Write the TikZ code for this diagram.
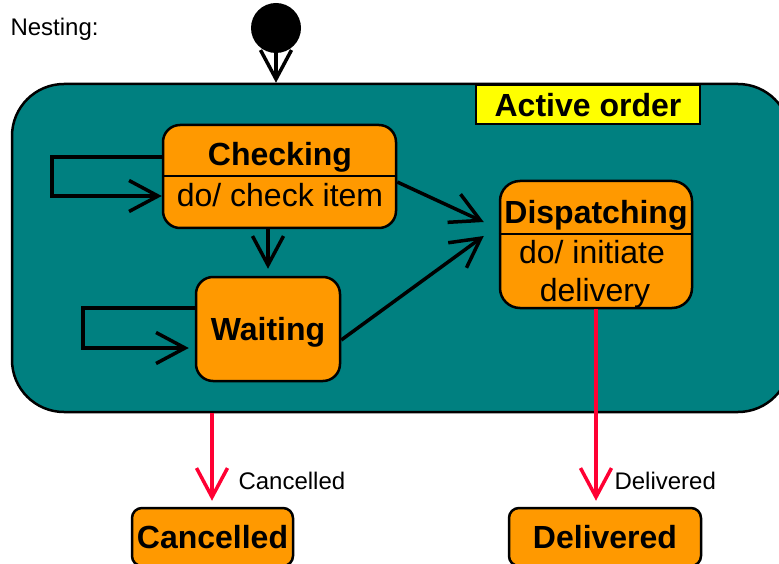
\documentclass[tikz,border=0pt]{standalone}
\usepackage{fontspec}
\setmainfont{Liberation Sans}
\usetikzlibrary{arrows.meta}
\definecolor{compositeteal}{RGB}{0,128,128}
\definecolor{stateorange}{RGB}{255,153,0}
\definecolor{titleyellow}{RGB}{255,255,0}
\definecolor{exitred}{RGB}{255,0,51}
\tikzset{
  bigbold/.style={font=\fontsize{32}{36}\selectfont\bfseries, text depth=0pt},
  bigtext/.style={font=\fontsize{32}{36}\selectfont, text depth=0pt},
  smalltext/.style={font=\fontsize{24}{28}\selectfont, text depth=0pt},
  state/.style={draw=black, line width=2.5pt, fill=stateorange, rounded corners=17pt, inner sep=0pt},
  flow/.style={line width=3.5pt, -{Straight Barb[length=29pt,width=31pt]}},
  exitflow/.style={exitred, line width=3.5pt, -{Straight Barb[length=29pt,width=31pt]}},
  divider/.style={line width=2.5pt},
}
\begin{document}
\begin{tikzpicture}[x=1pt,y=-1pt]
\useasboundingbox (0,0) rectangle (779,564);
\clip (0,0) rectangle (779,564);

% heading
\node[smalltext, anchor=west] (heading) at (7,27) {Nesting:};

% composite state
\node[draw=black, line width=2.5pt, fill=compositeteal, rounded corners=52pt,
      minimum width=778pt, minimum height=328pt] (active) at (401,248) {};
\node[draw=black, line width=2pt, fill=titleyellow, minimum width=224pt,
      minimum height=39pt, bigbold] (activelabel) at (588,104.5) {Active order};

% initial pseudostate
\node[circle, fill=black, minimum size=50pt, inner sep=0pt] (init) at (276,28) {};

% substates
\node[state, minimum width=233pt, minimum height=103pt] (checking) at (279.5,176.5) {};
\draw[divider] (checking.west |- 0,176) -- (checking.east |- 0,176);
\node[bigbold] (checkingname) at (280,154) {Checking};
\node[bigtext] (checkingdo) at (280,195) {do/ check item};

\node[state, minimum width=144pt, minimum height=104pt, bigbold] (waiting) at (268,329) {Waiting};

\node[state, rounded corners=20pt, minimum width=192pt, minimum height=127pt] (dispatching) at (596,244.5) {};
\draw[divider] (dispatching.west |- 0,234) -- (dispatching.east |- 0,234);
\node[bigbold] (dispatchingname) at (596,212) {Dispatching};
\node[bigtext] (dispatchingdo) at (592,252) {do/ initiate};
\node[bigtext] (dispatchingdo2) at (595,290) {delivery};

% final states
\node[state, rounded corners=10pt, minimum width=161pt, minimum height=58pt, bigbold] (cancelled) at (212.5,537) {Cancelled};
\node[state, rounded corners=10pt, minimum width=192pt, minimum height=58pt, bigbold] (delivered) at (605,537) {Delivered};

% transitions
\draw[flow] (init.south) -- (init.south |- active.north);
\draw[flow] (checking.west |- 0,157) -- (52,157) -- (52,196) -- (checking.west |- 0,196);
\draw[flow, shorten >=7pt] (checking.south -| 268,0) -- (waiting.north -| 268,0);
\draw[flow] (waiting.west |- 0,308) -- (83,308) -- (83,348) -- ([xshift=-6pt]waiting.west |- 0,348);
\draw[flow] (checking.east |- 0,182) -- ([xshift=-15pt]dispatching.west |- 0,222);
\draw[flow] (waiting.east |- 0,340) -- ([xshift=-15pt]dispatching.west |- 0,236);

\draw[exitflow, shorten >=6pt] (active.south -| 212,0) -- (cancelled.north -| 212,0);
\draw[exitflow, shorten >=6pt] (dispatching.south) -- (delivered.north -| dispatching.south);

\node[smalltext, anchor=west] (cancelledlabel) at (235,481) {Cancelled};
\node[smalltext, anchor=west] (deliveredlabel) at (611,481) {Delivered};
\end{tikzpicture}
\end{document}
